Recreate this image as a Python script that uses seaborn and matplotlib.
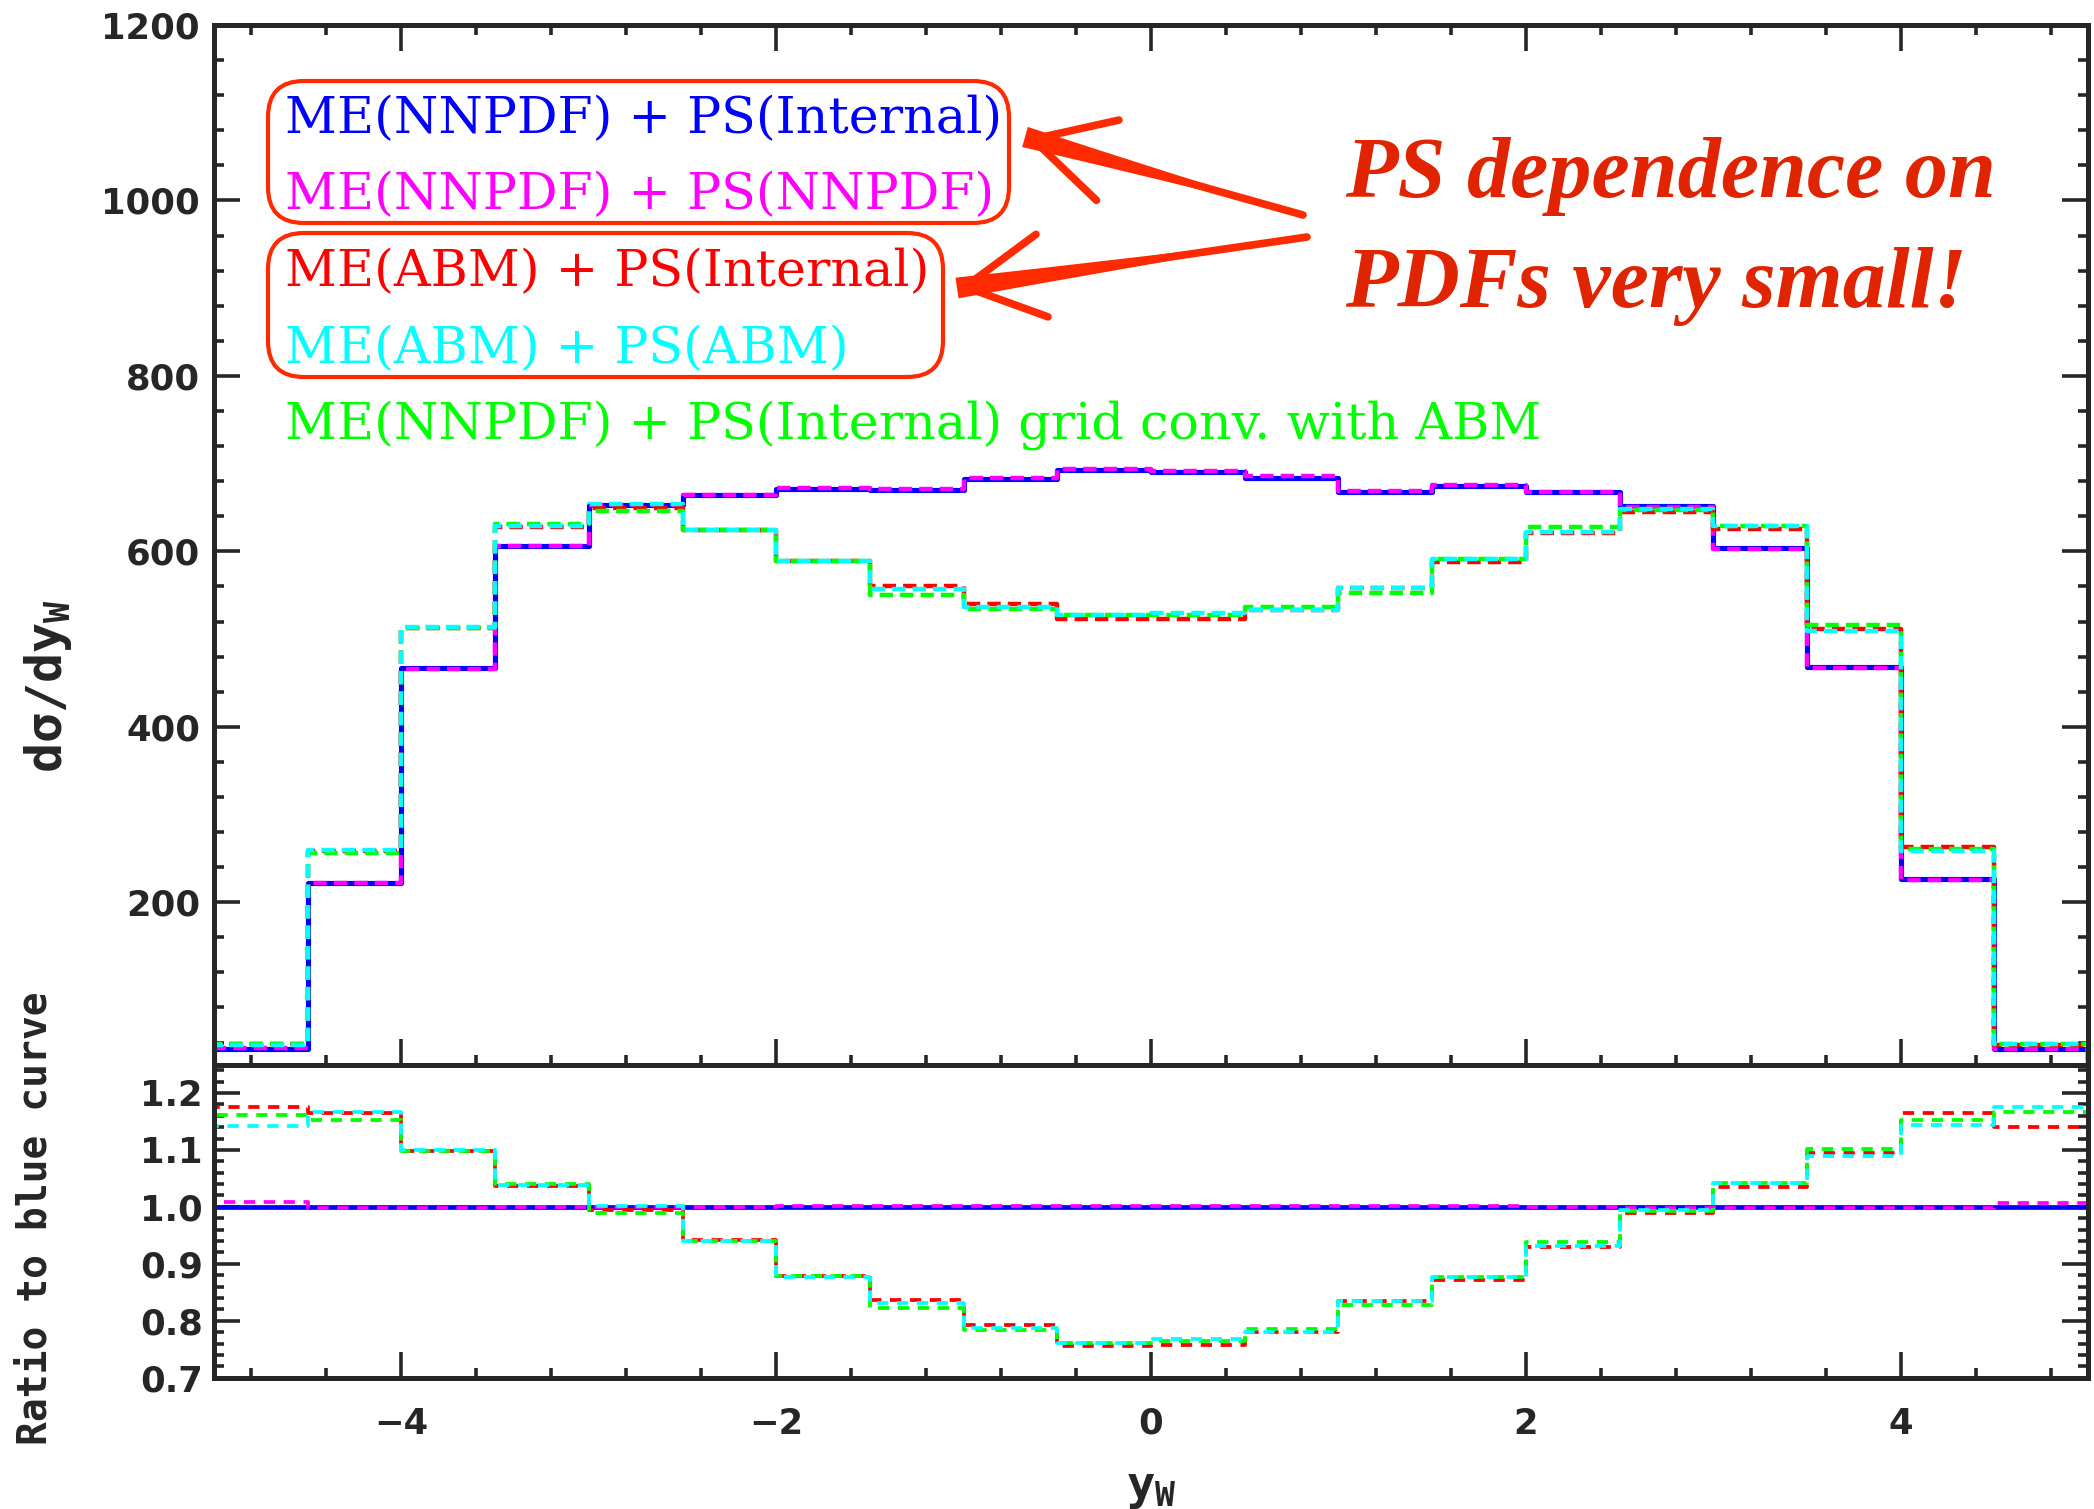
import numpy as np
import matplotlib
matplotlib.use("Agg")
import matplotlib.pyplot as plt
from matplotlib.patches import FancyBboxPatch
from matplotlib.ticker import MultipleLocator, FormatStrFormatter
import seaborn as sns

# ---- data: W rapidity distribution, 0.5-wide bins from -5 to 5 ----
bin_edges = np.linspace(-5.0, 5.0, 21)

xsec_nnpdf_int = [33, 222, 467, 606, 653, 664, 671, 670, 682, 693,
                  690, 684, 668, 674, 668, 652, 604, 468, 226, 33]
xsec_nnpdf_nnpdf = [33.3, 221.6, 466.1, 606.0, 653.0, 664.0, 671.7, 671.3, 683.4, 694.4,
                    691.4, 685.4, 669.3, 675.3, 668.0, 650.7, 602.8, 467.1, 225.5, 33.2]
xsec_abm_int = [38.8, 258.6, 512.8, 627.8, 649.1, 624.8, 589.1, 560.8, 540.1, 523.2,
                522.3, 533.5, 557.8, 587.7, 621.2, 644.8, 625.1, 512.0, 263.3, 37.6]
xsec_grid_abm = [38.3, 255.7, 512.8, 630.8, 645.8, 624.2, 589.1, 550.7, 534.7, 527.4,
                 527.2, 536.9, 552.4, 591.1, 627.3, 646.8, 629.4, 515.7, 260.4, 38.5]
xsec_abm_abm = [37.7, 259.1, 513.7, 629.0, 654.3, 624.2, 588.5, 556.8, 536.7, 527.4,
                529.9, 533.5, 557.8, 591.1, 622.6, 648.7, 629.4, 509.7, 258.5, 38.8]

series_labels = ["ME(NNPDF) + PS(Internal)",
                 "ME(NNPDF) + PS(NNPDF)",
                 "ME(ABM) + PS(Internal)",
                 "ME(ABM) + PS(ABM)",
                 "ME(NNPDF) + PS(Internal) grid conv. with ABM"]
series_colors = ["#0000FF", "#FF00FF", "#FF0000", "#00FFFF", "#00FF00"]

note_lines = ["PS dependence on", "PDFs very small!"]

# ---- style ----
sns.set_style("ticks")
plt.rcParams.update({
    "font.family": ["DejaVu Sans"],
    "font.weight": "bold",
    "axes.linewidth": 3.6,
    "xtick.direction": "in",
    "ytick.direction": "in",
})

W, H, DPI = 20.94, 15.09, 100
fig = plt.figure(figsize=(W, H), dpi=DPI)

left, width = 214 / 2094, (2088 - 214) / 2094
main_top, main_bot = 25 / 1509, 1064.5 / 1509
rat_bot = 1377.7 / 1509
ax = fig.add_axes([left, 1 - main_bot, width, main_bot - main_top])
axr = fig.add_axes([left, 1 - rat_bot, width, rat_bot - main_bot], sharex=ax)

# padded edges so each histogram closes down to zero at the range ends
ext_edges = np.concatenate([[bin_edges[0] - 0.5], bin_edges, [bin_edges[-1] + 0.5]])
centers = 0.5 * (ext_edges[:-1] + ext_edges[1:])


def draw_hist(axis, values, color, lw, dashes=None, z=2):
    w = np.concatenate([[0.0], np.asarray(values, float), [0.0]])
    kw = dict(x=centers, weights=w, bins=ext_edges.tolist(), element="step",
              fill=False, color=color, linewidth=lw, ax=axis, zorder=z)
    if dashes is not None:
        kw["linestyle"] = (0, dashes)
    sns.histplot(**kw)


blue = np.asarray(xsec_nnpdf_int, float)
curves = [
    (xsec_nnpdf_int, series_colors[0], None, 2.0),
    (xsec_nnpdf_nnpdf, series_colors[1], (3.0, 1.6), 2.1),
    (xsec_abm_int, series_colors[2], (3.0, 1.6), 2.2),
    (xsec_grid_abm, series_colors[4], (3.0, 1.6), 2.3),
    (xsec_abm_abm, series_colors[3], (3.0, 1.6), 2.4),
]
for vals, col, dsh, z in curves:
    draw_hist(ax, vals, col, 3.7 if dsh is None else 3.2, dsh, z)
    rdsh = None if dsh is None else (3.0, 2.3)
    draw_hist(axr, np.asarray(vals, float) / blue, col,
              3.4 if dsh is None else 2.7, rdsh, z)

# ---- axes cosmetics ----
ax.set_xlim(-5, 5)
ax.set_ylim(15, 1200)
axr.set_ylim(0.7, 1.25)

ax.xaxis.set_major_locator(MultipleLocator(2))
ax.xaxis.set_minor_locator(MultipleLocator(0.4))
ax.yaxis.set_major_locator(MultipleLocator(200))
ax.yaxis.set_minor_locator(MultipleLocator(40))
axr.yaxis.set_major_locator(MultipleLocator(0.1))
axr.yaxis.set_minor_locator(MultipleLocator(0.02))
axr.yaxis.set_major_formatter(FormatStrFormatter("%.1f"))

ax.tick_params(which="both", top=True, right=True, labelbottom=False,
               width=2.6, labelsize=25.5, pad=10)
axr.tick_params(which="both", top=False, right=True, width=2.6, labelsize=25.5)
axr.tick_params(axis="y", pad=8)
axr.tick_params(axis="x", pad=21)
for a in (ax, axr):
    a.tick_params(which="major", length=19)
    a.tick_params(which="minor", length=7)
    for s in a.spines.values():
        s.set_linewidth(3.6)
        s.set_visible(True)

label_font = dict(family="DejaVu Sans Mono", weight="bold")
ax.set_xlabel("")
ax.set_ylabel("d\u03c3/dy$_\\mathregular{W}$", fontsize=36, va="center", **label_font)
ax.yaxis.set_label_coords(-0.0886, 0.364)
axr.set_ylabel("Ratio to blue curve", fontsize=28.5, va="center", **label_font)
axr.yaxis.set_label_coords(-0.0955, 0.51)
axr.set_xlabel("y$_\\mathregular{W}$", fontsize=34, va="center", **label_font)
axr.xaxis.set_label_coords(0.5, -0.355)

# ---- legend text block with the two grouping boxes ----
baselines = [133, 209, 286, 363, 438]
for lab, col, yb in zip(series_labels, series_colors, baselines):
    fig.text(285 / DPI, (1509 - yb) / DPI, lab, transform=fig.dpi_scale_trans,
             family="DejaVu Serif", weight="normal", fontsize=36.5, color=col,
             ha="left", va="baseline")

box_color = "#FF2A00"
for (x0, y0, x1, y1) in [(268, 81, 1009, 223), (268, 233, 943, 377)]:
    fig.add_artist(FancyBboxPatch((x0 / DPI, (1509 - y1) / DPI),
                                  (x1 - x0) / DPI, (y1 - y0) / DPI,
                                  boxstyle="round,pad=0,rounding_size=0.36",
                                  transform=fig.dpi_scale_trans, fill=False,
                                  ec=box_color, lw=3.0))

# ---- note and arrows ----
for txt, yb in zip(note_lines, [197, 307]):
    fig.text(1345 / DPI, (1509 - yb) / DPI, txt, transform=fig.dpi_scale_trans,
             family="Liberation Serif", style="italic", weight="bold",
             fontsize=62, color="#E02400", ha="left", va="baseline")

for tail, tip in [((1303, 215), (1025, 137)), ((1307, 237), (957, 288))]:
    tip_px = (tip[0], 1509 - tip[1])
    tail_px = (tail[0], 1509 - tail[1])
    # tapered shaft: wide near the head, thin at the tail
    ax.annotate("", xy=tail_px, xycoords="figure pixels",
                xytext=tip_px, textcoords="figure pixels",
                arrowprops=dict(arrowstyle="wedge,tail_width=0.75,shrink_factor=0.45",
                                color=box_color, mutation_scale=20, lw=0,
                                shrinkA=0, shrinkB=0))
    # open chevron head
    ax.annotate("", xy=tip_px, xycoords="figure pixels",
                xytext=tail_px, textcoords="figure pixels",
                arrowprops=dict(arrowstyle="->,head_length=2.8,head_width=1.5",
                                lw=5.5, color=box_color, mutation_scale=20,
                                shrinkA=0, shrinkB=0, capstyle="round",
                                joinstyle="round"))

fig.savefig("out.png", dpi=DPI)
